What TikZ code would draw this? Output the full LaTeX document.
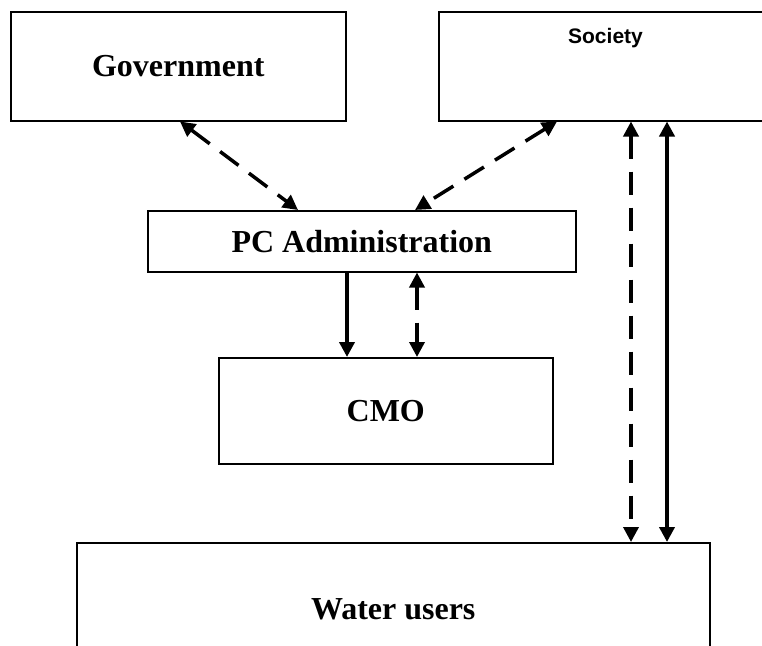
\documentclass[tikz,border=0pt]{standalone}
\usepackage{fontspec}
\setmainfont{Liberation Serif}
\newfontfamily\arialfont{Liberation Sans}
\usetikzlibrary{arrows.meta}
\begin{document}
\begin{tikzpicture}[x=1pt,y=-1pt,
  box/.style={draw=black, line width=1.5pt, rectangle, inner sep=0pt, anchor=north west,
    font=\fontsize{32}{38}\selectfont\bfseries},
  tipA/.style={-{Triangle[length=15pt,width=15pt]}},
  tipB/.style={{Triangle[length=15pt,width=15pt]}-{Triangle[length=15pt,width=15pt]}},
  dashline/.style={line width=3.5pt, dash pattern=on 23pt off 13pt},
  solidline/.style={line width=4pt},
  lbl/.style={inner sep=0pt}
]
\clip (0,0) rectangle (762,645);
\fill[white] (0,0) rectangle (762,645);
% boxes
\node[box, minimum width=335pt, minimum height=109pt] (gov) at (10,11) {Government};
\node[box, minimum width=335pt, minimum height=109pt] (soc) at (438,11) {};
\node[lbl, anchor=base, font=\arialfont\fontsize{21}{25}\selectfont\bfseries] (soctext) at (605.5,43) {Society};
\node[box, minimum width=428pt, minimum height=61pt] (pc) at (147,210) {PC Administration};
\node[box, minimum width=334pt, minimum height=106pt] (cmo) at (218,357) {CMO};
\node[box, minimum width=633pt, minimum height=134pt] (wat) at (76,542) {Water users};
% connectors
\draw[dashline, tipB] ([xshift=170pt]gov.south west) -- ([xshift=151pt]pc.north west);
\draw[dashline, tipB] ([xshift=119pt]soc.south west) -- ([xshift=268pt]pc.north west);
\draw[solidline, tipA] ([xshift=200pt]pc.south west) -- ([xshift=129pt]cmo.north west);
\draw[dashline, tipB] ([xshift=270pt]pc.south west) -- ([xshift=199pt]cmo.north west);
\draw[dashline, tipB] ([xshift=193pt]soc.south west) -- ([xshift=555pt]wat.north west);
\draw[solidline, tipB] ([xshift=229pt]soc.south west) -- ([xshift=591pt]wat.north west);
\end{tikzpicture}
\end{document}
